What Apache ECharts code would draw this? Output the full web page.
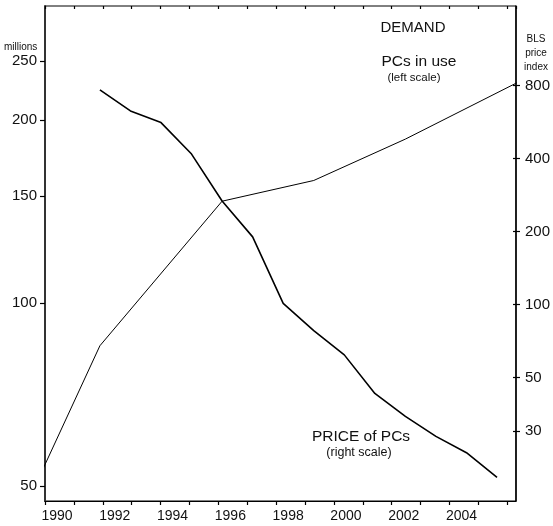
<!DOCTYPE html>
<html>
<head>
<meta charset="utf-8">
<script src="https://cdn.jsdelivr.net/npm/echarts@6/dist/echarts.min.js"></script>
<style>
  html, body { margin: 0; padding: 0; background: #fff; }
  #chart { width: 553px; height: 526px; }
</style>
</head>
<body>
<div id="chart"></div>
<script>
// PCs in use (millions, left log scale)
var demandYears = [1990, 1992, 1996, 1999, 2002, 2006]
var pcsInUse = [51.5, 85, 147, 159, 186, 235]
// BLS price index (right log scale)
var priceYears = [1992, 1993, 1994, 1995, 1996, 1997, 1998, 1999, 2000, 2001, 2002, 2003, 2004, 2005]
var priceIndex = [767, 628, 562, 417, 267, 190, 101, 78, 62, 43, 34.6, 28.6, 24.5, 19.4]
// axis ticks
var leftTicks = [50, 100, 150, 200, 250]
var rightTicks = [30, 50, 100, 200, 400, 800]
var yearLabels = [1990, 1992, 1994, 1996, 1998, 2000, 2002, 2004]

var FONT = 'Liberation Sans'
var lg = function(v) { return Math.log10(v) }
var unlg = function(v) { return Math.round(Math.pow(10, v)) }

var chart = echarts.init(document.getElementById('chart'), null, { renderer: 'canvas' })

var option = {
  backgroundColor: '#fff',
  animation: false,
  textStyle: { fontFamily: FONT, color: '#111' },
  grid: {
    left: 45, top: 6, width: 472, height: 495,
    show: true, borderColor: '#000', borderWidth: 1
  },
  xAxis: [
    {
      // visible year axis
      type: 'value',
      min: 1990,
      max: 2006.3,
      interval: 1,
      axisLine: { show: true, lineStyle: { color: '#000', width: 1.2 } },
      axisTick: { show: true, length: 4, lineStyle: { color: '#000', width: 1.2 } },
      axisLabel: {
        fontSize: 14, color: '#111', margin: 8,
        padding: [0, 0, 0, 24],
        showMaxLabel: false,
        formatter: function(v) {
          return yearLabels.indexOf(v) >= 0 ? String(v) : ''
        }
      },
      splitLine: { show: false }
    },
    {
      // data axis for the plotted points
      type: 'value',
      min: 1990.203,
      max: 2005.62,
      show: false
    },
    {
      // inner half of the year ticks
      type: 'value',
      min: 1990,
      max: 2006.3,
      interval: 1,
      axisLine: { show: false },
      axisTick: { show: true, inside: true, length: 3, lineStyle: { color: '#000', width: 1.2 } },
      axisLabel: { show: false },
      splitLine: { show: false }
    }
  ],
  yAxis: [
    {
      type: 'value',
      position: 'left',
      min: lg(47.2),
      max: lg(308),
      axisLine: { show: true, lineStyle: { color: '#333', width: 2 } },
      axisTick: {
        show: true, length: 5, lineStyle: { color: '#000', width: 1.2 },
        customValues: leftTicks.map(lg)
      },
      axisLabel: {
        fontSize: 15, color: '#111', margin: 8,
        customValues: leftTicks.map(lg),
        formatter: unlg
      },
      splitLine: { show: false }
    },
    {
      type: 'value',
      position: 'right',
      min: lg(15.49),
      max: lg(1700),
      axisLine: { show: true, lineStyle: { color: '#000', width: 1.5 } },
      axisTick: {
        show: true, length: 4, lineStyle: { color: '#000', width: 1.2 },
        customValues: rightTicks.map(lg)
      },
      axisLabel: {
        fontSize: 15, color: '#111', margin: 9,
        customValues: rightTicks.map(lg),
        formatter: unlg
      },
      splitLine: { show: false }
    },
    {
      // inner half of the right ticks
      type: 'value',
      position: 'right',
      min: lg(15.49),
      max: lg(1700),
      axisLine: { show: false },
      axisTick: {
        show: true, inside: true, length: 3, lineStyle: { color: '#000', width: 1.2 },
        customValues: rightTicks.map(lg)
      },
      axisLabel: { show: false },
      splitLine: { show: false }
    }
  ],
  graphic: [
    { type: 'text', left: 4, top: 42, style: { text: 'millions', font: '10px ' + FONT, fill: '#111' } },
    { type: 'text', x: 536, y: 32, style: { text: 'BLS\nprice\nindex', font: '10px ' + FONT, lineHeight: 14, align: 'center', fill: '#111' } },
    { type: 'text', x: 413, y: 28, style: { text: 'DEMAND', font: '15px ' + FONT, align: 'center', verticalAlign: 'middle', fill: '#111' } },
    { type: 'text', x: 419, y: 62, style: { text: 'PCs in use', font: '15.5px ' + FONT, align: 'center', verticalAlign: 'middle', fill: '#111' } },
    { type: 'text', x: 414, y: 78, style: { text: '(left scale)', font: '11.5px ' + FONT, align: 'center', verticalAlign: 'middle', fill: '#111' } },
    { type: 'text', x: 361, y: 437, style: { text: 'PRICE of PCs', font: '15.5px ' + FONT, align: 'center', verticalAlign: 'middle', fill: '#111' } },
    { type: 'text', x: 359, y: 453, style: { text: '(right scale)', font: '12.5px ' + FONT, align: 'center', verticalAlign: 'middle', fill: '#111' } }
  ],
  series: [
    {
      name: 'PCs in use',
      type: 'line',
      xAxisIndex: 1,
      yAxisIndex: 0,
      symbol: 'none',
      lineStyle: { color: '#000', width: 1 },
      data: demandYears.map(function(y, i) { return [y, lg(pcsInUse[i])] })
    },
    {
      name: 'PRICE of PCs',
      type: 'line',
      xAxisIndex: 1,
      yAxisIndex: 1,
      symbol: 'none',
      lineStyle: { color: '#000', width: 1.6 },
      data: priceYears.map(function(y, i) { return [y, lg(priceIndex[i])] })
    }
  ]
}

chart.setOption(option)
</script>
</body>
</html>
